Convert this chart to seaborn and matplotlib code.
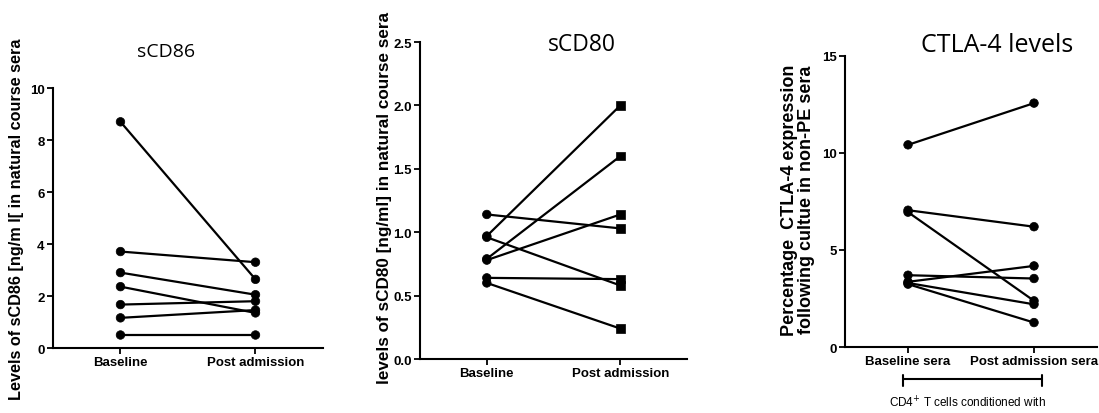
import matplotlib
matplotlib.use("Agg")
import matplotlib.pyplot as plt
import seaborn as sns
import pandas as pd

# --- data
cd86_groups = ["Baseline", "Post admission"]
cd86_baseline = [8.70, 3.71, 2.90, 2.36, 1.67, 1.16, 0.50]
cd86_post = [2.64, 3.30, 2.05, 1.35, 1.80, 1.46, 0.50]

cd80_groups = ["Baseline", "Post admission"]
cd80_baseline = [1.14, 0.97, 0.96, 0.79, 0.78, 0.64, 0.60]
cd80_post = [1.03, 2.00, 0.58, 1.60, 1.14, 0.63, 0.24]

ctla_groups = ["Baseline sera", "Post admission sera"]
ctla_baseline = [10.42, 7.05, 6.95, 3.70, 3.36, 3.30, 3.24]
ctla_post = [12.57, 6.20, 2.38, 3.53, 4.18, 2.20, 1.26]

sns.set_theme(style="ticks")
plt.rcParams['font.family'] = ['Liberation Sans', 'DejaVu Sans']
plt.rcParams['text.color'] = 'black'
plt.rcParams['xtick.color'] = 'black'
plt.rcParams['ytick.color'] = 'black'

TITLE_FONT = ['Open Sans', 'DejaVu Sans']


def long_form(groups, before, after):
    rows = []
    for i, (b, a) in enumerate(zip(before, after)):
        rows.append({"subject": i, "group": groups[0], "value": b})
        rows.append({"subject": i, "group": groups[1], "value": a})
    return pd.DataFrame(rows)


def draw_panel(ax, df, groups, markers, ylim, yticks, yfmt):
    sns.lineplot(data=df, x="group", y="value", units="subject", estimator=None,
                 color="black", lw=1.6, ax=ax, legend=False)
    sns.scatterplot(data=df, x="group", y="value", style="group", markers=markers,
                    color="black", s=38, edgecolor="black", linewidth=0.5,
                    ax=ax, legend=False, zorder=3)
    ax.set_xlim(-0.5, 1.5)
    ax.set_ylim(*ylim)
    ax.set_yticks(yticks)
    ax.set_yticklabels([yfmt.format(t) for t in yticks], fontweight="bold", fontsize=9.5)
    ax.set_xticks([0, 1])
    ax.set_xticklabels(groups, fontweight="bold", fontsize=9.5)
    ax.set_xlabel("")
    ax.set_ylabel("")
    sns.despine(ax=ax)
    for s in ("left", "bottom"):
        ax.spines[s].set_linewidth(1.5)
        ax.spines[s].set_color("black")
    ax.tick_params(axis="both", width=1.3, length=4, color="black", pad=2)
    ax.set_facecolor("white")


fig = plt.figure(figsize=(10.99, 4.14), dpi=100)

ax1 = fig.add_axes([0.0482, 0.157, 0.2457, 0.628])
ax2 = fig.add_axes([0.3822, 0.1304, 0.243, 0.7657])
ax3 = fig.add_axes([0.7689, 0.1594, 0.2293, 0.703])

draw_panel(ax1, long_form(cd86_groups, cd86_baseline, cd86_post), cd86_groups,
           {cd86_groups[0]: "o", cd86_groups[1]: "o"}, (0, 10), [0, 2, 4, 6, 8, 10], "{:g}")
draw_panel(ax2, long_form(cd80_groups, cd80_baseline, cd80_post), cd80_groups,
           {cd80_groups[0]: "o", cd80_groups[1]: "s"}, (0, 2.5),
           [0, 0.5, 1.0, 1.5, 2.0, 2.5], "{:.1f}")
draw_panel(ax3, long_form(ctla_groups, ctla_baseline, ctla_post), ctla_groups,
           {ctla_groups[0]: "o", ctla_groups[1]: "o"}, (0, 15), [0, 5, 10, 15], "{:g}")

# titles
fig.text(166 / 1099, 1 - 52 / 414, "sCD86", family=TITLE_FONT, fontsize=14,
         ha="center", va="center")
fig.text(582 / 1099, 1 - 45 / 414, "sCD80", family=TITLE_FONT, fontsize=16.5,
         ha="center", va="center")
fig.text(997 / 1099, 1 - 45 / 414, "CTLA-4 levels", family=TITLE_FONT, fontsize=18,
         ha="center", va="center")

# y labels
fig.text(17 / 1099, 1 - 219 / 414, "Levels of sCD86 [ng/m l[ in natural course sera",
         rotation=90, fontweight="bold", fontsize=11.7, ha="center", va="center")
fig.text(385 / 1099, 1 - 198 / 414, "levels of sCD80 [ng/ml] in natural course sera",
         rotation=90, fontweight="bold", fontsize=12.3, ha="center", va="center")
fig.text(798 / 1099, 1 - 200 / 414,
         "Percentage  CTLA-4 expression\nfollowing cultue in non-PE sera",
         rotation=90, fontweight="bold", fontsize=13, ha="center", va="center",
         linespacing=0.95)

# bracket under the CTLA-4 panel
tr = ax3.get_xaxis_transform()
ax3.plot([-0.04, 1.064], [-0.11, -0.11], color="black", lw=1.5, transform=tr, clip_on=False)
for xe in (-0.04, 1.064):
    ax3.plot([xe, xe], [-0.095, -0.135], color="black", lw=1.5, transform=tr, clip_on=False)
ax3.text(0.47, -0.19, "CD4$^{+}$ T cells conditioned with", transform=tr,
         fontsize=8.5, ha="center", va="center")

fig.savefig("out.png", dpi=100, facecolor="white")
